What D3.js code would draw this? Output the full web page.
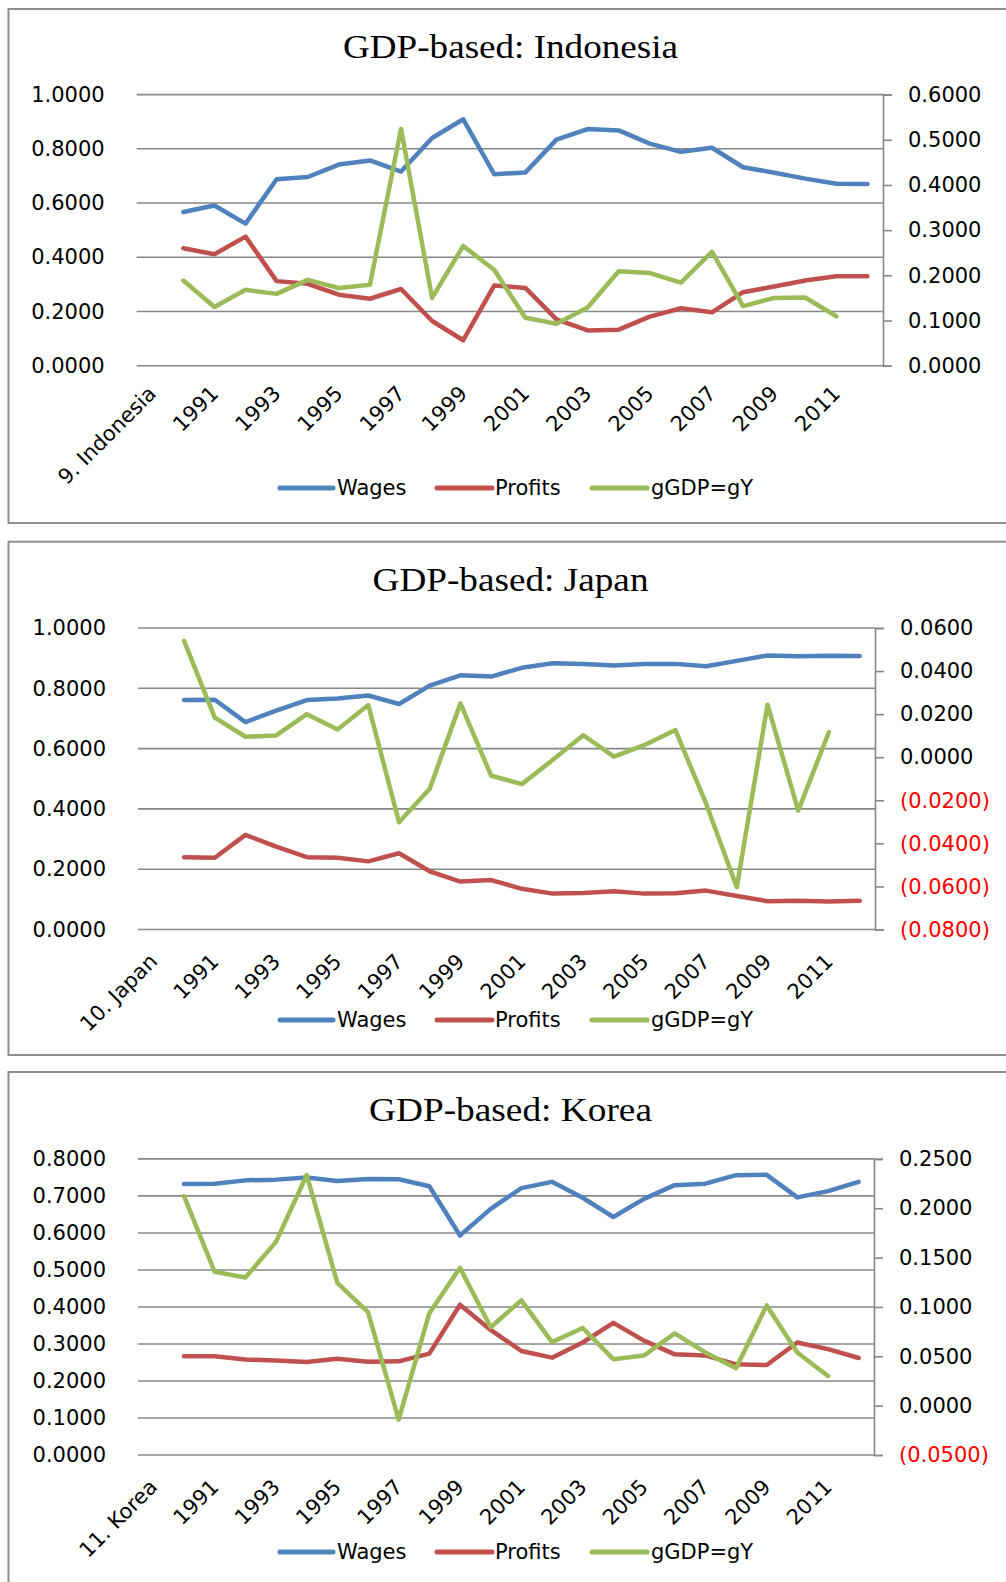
<!DOCTYPE html>
<html>
<head>
<meta charset="utf-8">
<script src="https://cdn.jsdelivr.net/npm/d3@7"></script>
<style>
  html, body { margin: 0; padding: 0; background: #fff; }
  svg { display: block; }
  text { font-family: "DejaVu Sans", sans-serif; }
</style>
</head>
<body>
<svg id="chart" width="1006" height="1582"></svg>
<script>
// ---------- DATA ----------
const years = ["1990","1991","1992","1993","1994","1995","1996","1997","1998","1999","2000",
  "2001","2002","2003","2004","2005","2006","2007","2008","2009","2010","2011","2012"];
const seriesNames = ["Wages", "Profits", "gGDP=gY"];

// Indonesia
const indonesiaWages   = [0.567,0.591,0.524,0.688,0.696,0.742,0.757,0.716,0.840,0.909,0.706,0.713,0.834,0.873,0.868,0.819,0.789,0.804,0.732,0.712,0.690,0.671,0.670];
const indonesiaProfits = [0.433,0.411,0.476,0.312,0.302,0.262,0.247,0.283,0.165,0.094,0.296,0.287,0.171,0.130,0.133,0.181,0.212,0.197,0.271,0.292,0.314,0.330,0.330];
const indonesiaGrowth  = [0.1885,0.130,0.168,0.159,0.190,0.172,0.179,0.524,0.150,0.265,0.212,0.106,0.093,0.129,0.209,0.205,0.184,0.252,0.132,0.150,0.151,0.109,null];

// Japan
const japanWages   = [0.761,0.762,0.688,0.726,0.761,0.766,0.776,0.748,0.809,0.843,0.839,0.868,0.883,0.881,0.876,0.881,0.881,0.873,0.891,0.909,0.906,0.908,0.907];
const japanProfits = [0.240,0.238,0.314,0.275,0.240,0.238,0.226,0.253,0.193,0.159,0.164,0.135,0.119,0.121,0.127,0.119,0.120,0.129,0.111,0.094,0.095,0.093,0.095];
const japanGrowth  = [0.0540,0.0184,0.0095,0.0101,0.0200,0.0129,0.0242,-0.0302,-0.0146,0.0250,-0.0086,-0.0125,-0.0013,0.0102,0.0003,0.0057,0.0126,-0.0216,-0.0604,0.0244,-0.0248,0.0117,null];

// Korea
const koreaWages   = [0.732,0.733,0.742,0.744,0.750,0.740,0.746,0.745,0.726,0.593,0.665,0.721,0.738,0.695,0.643,0.692,0.729,0.733,0.756,0.757,0.696,0.713,0.738];
const koreaProfits = [0.267,0.267,0.258,0.255,0.251,0.260,0.252,0.253,0.274,0.406,0.338,0.281,0.263,0.304,0.357,0.309,0.272,0.269,0.245,0.243,0.304,0.286,0.262];
const koreaGrowth  = [0.2122,0.1356,0.1298,0.1659,0.2337,0.1244,0.0947,-0.0142,0.0937,0.1397,0.0794,0.1067,0.0644,0.0787,0.0471,0.0508,0.0733,0.0539,0.0379,0.1015,0.0539,0.0300,null];

// Axis ticks
const indonesiaLeftTicks  = [0, 0.2, 0.4, 0.6, 0.8, 1.0];
const indonesiaRightTicks = [0, 0.1, 0.2, 0.3, 0.4, 0.5, 0.6];
const japanLeftTicks  = [0, 0.2, 0.4, 0.6, 0.8, 1.0];
const japanRightTicks = [-0.08, -0.06, -0.04, -0.02, 0, 0.02, 0.04, 0.06];
const koreaLeftTicks  = [0, 0.1, 0.2, 0.3, 0.4, 0.5, 0.6, 0.7, 0.8];
const koreaRightTicks = [-0.05, 0, 0.05, 0.1, 0.15, 0.2, 0.25];

const panels = [
  { title: "GDP-based: Indonesia", first: "9. Indonesia",
    wages: indonesiaWages, profits: indonesiaProfits, growth: indonesiaGrowth,
    leftTicks: indonesiaLeftTicks, rightTicks: indonesiaRightTicks },
  { title: "GDP-based: Japan", first: "10. Japan",
    wages: japanWages, profits: japanProfits, growth: japanGrowth,
    leftTicks: japanLeftTicks, rightTicks: japanRightTicks },
  { title: "GDP-based: Korea", first: "11. Korea",
    wages: koreaWages, profits: koreaProfits, growth: koreaGrowth,
    leftTicks: koreaLeftTicks, rightTicks: koreaRightTicks }
];

// ---------- LAYOUT ----------
const layouts = [
  { top: 9,    bottom: 523,  left: 136.7, right: 883, plotTop: 94.6,  plotBottom: 365.7, titleY: 58,   titleW: 335, labelOff: 24, legendY: 488 },
  { top: 541.7,bottom: 1055, left: 138,   right: 875, plotTop: 628,   plotBottom: 929.5, titleY: 591,  titleW: 276, labelOff: 28, legendY: 1020 },
  { top: 1072, bottom: 1640, left: 138,   right: 874, plotTop: 1158.9,plotBottom: 1455,  titleY: 1121, titleW: 283, labelOff: 28, legendY: 1552 }
];
const colors = ["#4F81BD", "#C0504D", "#9BBB59"];
const gridColor = "#878787";
const fmt4 = d3.format(".4f");
const fmtNeg = v => v < -1e-12 ? "(" + fmt4(Math.abs(v)) + ")" : fmt4(Math.abs(v) < 1e-12 ? 0 : v);

const svg = d3.select("#chart");

panels.forEach((p, i) => {
  const L = layouts[i];
  const g = svg.append("g");

  // border
  g.append("rect")
    .attr("x", 8.5).attr("y", L.top)
    .attr("width", 1040).attr("height", L.bottom - L.top)
    .attr("fill", "#fff").attr("stroke", "#8e8e8e").attr("stroke-width", 2);

  // title
  const t = g.append("text")
    .attr("x", 510.5).attr("y", L.titleY)
    .attr("text-anchor", "middle")
    .style("font-family", "'Liberation Serif', 'Times New Roman', serif")
    .style("font-size", "33px")
    .attr("fill", "#000")
    .text(p.title);
  t.attr("textLength", L.titleW).attr("lengthAdjust", "spacingAndGlyphs");

  const categories = [p.first].concat(years);
  const x = d3.scaleBand().domain(categories).range([L.left, L.right]).padding(0);
  const cx = c => x(c) + x.bandwidth() / 2;

  const yL = d3.scaleLinear().domain(d3.extent(p.leftTicks)).range([L.plotBottom, L.plotTop]);
  const yR = d3.scaleLinear().domain(d3.extent(p.rightTicks)).range([L.plotBottom, L.plotTop]);

  // gridlines
  g.append("g").selectAll("line").data(p.leftTicks).join("line")
    .attr("x1", L.left).attr("x2", L.right)
    .attr("y1", d => yL(d)).attr("y2", d => yL(d))
    .attr("stroke", gridColor).attr("stroke-width", 1.6);

  // left axis labels
  const la = g.append("g").attr("transform", `translate(${L.left},0)`)
    .call(d3.axisLeft(yL).tickValues(p.leftTicks).tickSize(0).tickPadding(32).tickFormat(fmt4));
  la.select(".domain").remove();
  la.selectAll("text").style("font-family", "'DejaVu Sans', sans-serif").style("font-size", "21px").attr("fill", "#000");

  // right axis
  const ra = g.append("g").attr("transform", `translate(${L.right},0)`)
    .call(d3.axisRight(yR).tickValues(p.rightTicks).tickSize(9).tickSizeOuter(9).tickPadding(16).tickFormat(fmtNeg));
  ra.select(".domain").attr("stroke", gridColor).attr("stroke-width", 1.6);
  ra.selectAll(".tick line").attr("stroke", gridColor).attr("stroke-width", 1.6);
  ra.selectAll("text")
    .style("font-family", "'DejaVu Sans', sans-serif").style("font-size", "21px")
    .attr("fill", d => d < -1e-12 ? "#FF0000" : "#000");

  // category labels (every other)
  const shown = categories.filter((c, k) => k % 2 === 0);
  g.append("g").selectAll("text").data(shown).join("text")
    .attr("transform", d => `translate(${cx(d)},${L.plotBottom + L.labelOff}) rotate(-45)`)
    .attr("text-anchor", "end")
    .attr("dy", "0.35em")
    .style("font-size", "21px")
    .attr("fill", "#000")
    .text(d => d);

  // series lines
  const seriesData = [p.wages, p.profits, p.growth];
  const scales = [yL, yL, yR];
  seriesData.forEach((vals, s) => {
    const pts = years.map((yr, k) => ({ c: yr, v: vals[k] }));
    const line = d3.line()
      .defined(d => d.v !== null && d.v !== undefined)
      .x(d => cx(d.c)).y(d => scales[s](d.v));
    g.append("path").datum(pts)
      .attr("d", line)
      .attr("fill", "none")
      .attr("stroke", colors[s])
      .attr("stroke-width", 4.5)
      .attr("stroke-linejoin", "round")
      .attr("stroke-linecap", "round");
  });

  // legend
  const legendItems = [
    { x1: 280, x2: 333, tx: 337 },
    { x1: 437, x2: 492, tx: 495 },
    { x1: 592, x2: 647, tx: 651 }
  ];
  legendItems.forEach((it, s) => {
    g.append("line")
      .attr("x1", it.x1).attr("x2", it.x2)
      .attr("y1", L.legendY).attr("y2", L.legendY)
      .attr("stroke", colors[s]).attr("stroke-width", 5).attr("stroke-linecap", "round");
    g.append("text")
      .attr("x", it.tx).attr("y", L.legendY).attr("dy", "0.35em")
      .style("font-size", "21px").attr("fill", "#000")
      .text(seriesNames[s]);
  });
});
</script>
</body>
</html>
